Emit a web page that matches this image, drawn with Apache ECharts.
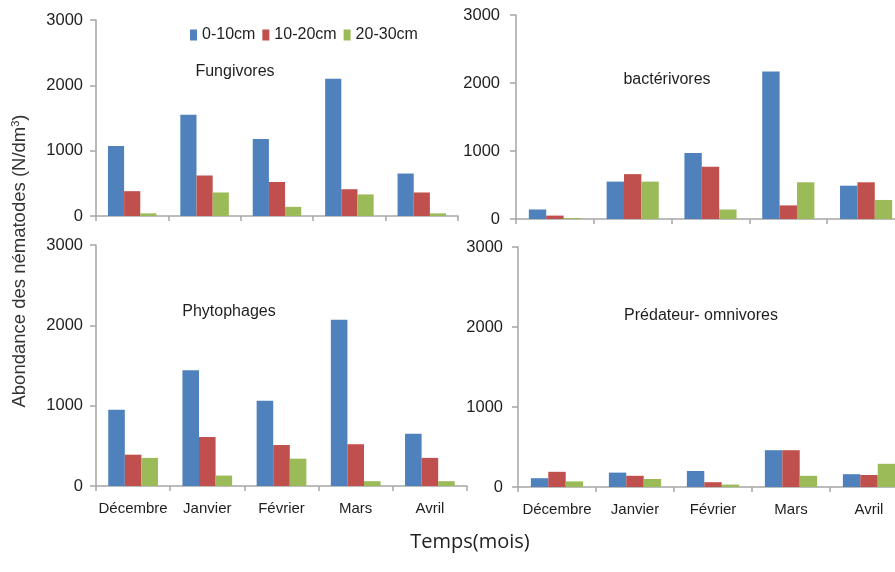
<!DOCTYPE html>
<html>
<head>
<meta charset="utf-8">
<script src="https://cdn.jsdelivr.net/npm/echarts@6/dist/echarts.min.js"></script>
<style>
  html, body { margin: 0; padding: 0; background: #fff; }
  #chart { width: 895px; height: 572px; }
</style>
</head>
<body>
<div id="chart"></div>
<script>
// Months sampled and soil depth layers
const months = ['Décembre', 'Janvier', 'Février', 'Mars', 'Avril'];
const depths = ['0-10cm', '10-20cm', '20-30cm'];
const yTicks = [0, 1000, 2000, 3000];

// Nematode abundance (N/dm³) per trophic group and depth
const fungi0_10 = [1070, 1550, 1180, 2100, 650];
const fungi10_20 = [380, 620, 520, 410, 360];
const fungi20_30 = [40, 360, 140, 330, 40];

const bact0_10 = [140, 550, 970, 2170, 490];
const bact10_20 = [50, 660, 770, 200, 540];
const bact20_30 = [15, 550, 140, 540, 280];

const phyto0_10 = [950, 1440, 1060, 2070, 650];
const phyto10_20 = [390, 610, 510, 520, 350];
const phyto20_30 = [350, 130, 340, 60, 60];

const pred0_10 = [110, 180, 200, 460, 160];
const pred10_20 = [190, 140, 60, 460, 150];
const pred20_30 = [70, 100, 30, 140, 290];

const groupTitles = ['Fungivores', 'bactérivores', 'Phytophages', 'Prédateur- omnivores'];
const groupData = [
  [fungi0_10, fungi10_20, fungi20_30],
  [bact0_10, bact10_20, bact20_30],
  [phyto0_10, phyto10_20, phyto20_30],
  [pred0_10, pred10_20, pred20_30]
];

const colors = ['#4F81BD', '#C0504D', '#9BBB59'];
const FONT = '"Liberation Sans", Arial, sans-serif';
const axisGray = '#a6a6a6';
const textDark = '#1e1e1e';

// Panel frames: top-left, top-right, bottom-left, bottom-right
const grids = [
  { left: 96, top: 20, width: 362, height: 196, labelMargin: 13, showCat: false },
  { left: 516, top: 15, width: 389, height: 204, labelMargin: 16, showCat: false },
  { left: 96, top: 245, width: 371, height: 241, labelMargin: 13, showCat: true },
  { left: 518, top: 247, width: 390, height: 240, labelMargin: 15, showCat: true }
];
const titlePos = [[235, 72], [667, 80], [229, 312], [701, 316]];

const option = {
  backgroundColor: '#ffffff',
  animation: false,
  textStyle: { fontFamily: FONT },
  legend: {
    data: depths,
    left: 185,
    top: 22,
    itemWidth: 7,
    itemHeight: 11,
    itemGap: 7,
    icon: 'rect',
    textStyle: { fontSize: 16, color: textDark, fontFamily: FONT }
  },
  grid: grids.map(g => ({
    left: g.left, top: g.top, width: g.width, height: g.height,
    containLabel: false, outerBoundsMode: 'none'
  })),
  xAxis: grids.map((g, i) => ({
    type: 'category',
    gridIndex: i,
    data: months,
    axisLine: { show: true, lineStyle: { color: axisGray, width: 1.5 } },
    axisTick: { show: true, length: 5, lineStyle: { color: axisGray, width: 1.5 } },
    axisLabel: {
      show: g.showCat, margin: 15, fontSize: 15, color: textDark, fontFamily: FONT,
      interval: 0
    },
    splitLine: { show: false }
  })),
  yAxis: grids.map((g, i) => ({
    type: 'value',
    gridIndex: i,
    min: yTicks[0],
    max: yTicks[yTicks.length - 1],
    interval: yTicks[1] - yTicks[0],
    axisLine: { show: true, lineStyle: { color: axisGray, width: 1.5 } },
    axisTick: { show: true, length: 6, lineStyle: { color: axisGray, width: 1.5 } },
    axisLabel: {
      margin: g.labelMargin, fontSize: 16.5, color: textDark, fontFamily: FONT,
      formatter: v => String(v)
    },
    splitLine: { show: false }
  })),
  series: [],
  graphic: []
};

groupData.forEach((set, gi) => {
  set.forEach((values, di) => {
    option.series.push({
      type: 'bar',
      name: depths[di],
      xAxisIndex: gi,
      yAxisIndex: gi,
      data: values,
      barGap: '0%',
      barCategoryGap: '33%',
      itemStyle: { color: colors[di] }
    });
  });
  option.graphic.push({
    type: 'text',
    x: titlePos[gi][0],
    y: titlePos[gi][1],
    style: {
      text: groupTitles[gi],
      fontSize: 16,
      fontFamily: FONT,
      fill: textDark,
      align: 'center',
      verticalAlign: 'middle'
    }
  });
});

// Shared axis titles
option.graphic.push({
  type: 'text',
  x: 20,
  y: 261,
  rotation: Math.PI / 2,
  style: {
    text: 'Abondance des nématodes (N/dm{sup|3})',
    fontSize: 18.5,
    fontFamily: FONT,
    fill: '#333',
    align: 'center',
    verticalAlign: 'middle',
    rich: {
      sup: { fontSize: 11, fontFamily: FONT, fill: '#333', verticalAlign: 'top', padding: [0, 0, 9, 0] }
    }
  }
});
option.graphic.push({
  type: 'text',
  x: 470,
  y: 542,
  style: {
    text: 'Temps(mois)',
    fontSize: 20,
    fontFamily: '"Open Sans", sans-serif',
    fill: '#222',
    align: 'center',
    verticalAlign: 'middle'
  }
});

const chart = echarts.init(document.getElementById('chart'), null, { renderer: 'canvas' });
chart.setOption(option);
</script>
</body>
</html>
